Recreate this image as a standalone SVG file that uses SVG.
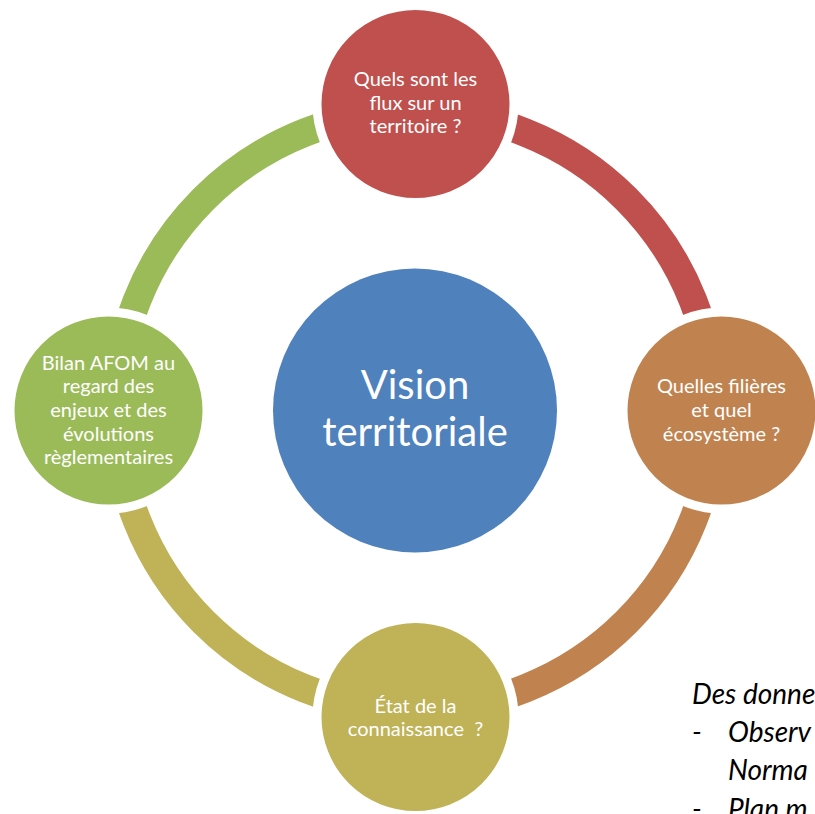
<svg xmlns="http://www.w3.org/2000/svg" width="815" height="814" viewBox="0 0 815 814">
  <style>
    .arc { fill: none; stroke-width: 28.5; stroke-linecap: butt; }
    .node { stroke: #FFFFFF; stroke-width: 9; }
    .lbl { font-family: Lato, "Open Sans", "Liberation Sans", sans-serif; font-size: 20px; fill: #FFFFFF; text-anchor: middle; }
    .big { font-family: Lato, "Open Sans", "Liberation Sans", sans-serif; font-size: 40px; fill: #FFFFFF; text-anchor: middle; }
    .note { font-family: Lato, "Open Sans", "Liberation Sans", sans-serif; font-size: 28px; font-style: italic; fill: #000000; }
  </style>
  <rect width="815" height="814" fill="#FFFFFF"/>
  <g id="connectors">
    <path class="arc" stroke="#C0504D" d="M 415 111.5 A 299 299 0 0 1 714 410.5"/>
    <path class="arc" stroke="#C0834F" d="M 714 410.5 A 299 299 0 0 1 415 709.5"/>
    <path class="arc" stroke="#BFB257" d="M 415 709.5 A 299 299 0 0 1 116 410.5"/>
    <path class="arc" stroke="#9BBB59" d="M 116 410.5 A 299 299 0 0 1 415 111.5"/>
  </g>
  <g id="center">
    <circle cx="415" cy="410.5" r="142" fill="#4F81BD"/>
    <text class="big" x="415" y="399">Vision</text>
    <text class="big" x="415" y="445.5">territoriale</text>
  </g>
  <g id="node-top">
    <circle class="node" cx="415.5" cy="104" r="98.5" fill="#C0504D"/>
    <text class="lbl" x="415.5" y="86">Quels sont les</text>
    <text class="lbl" x="415.5" y="110">flux sur un</text>
    <text class="lbl" x="415.5" y="133">territoire ?</text>
  </g>
  <g id="node-right">
    <circle class="node" cx="721.5" cy="410.5" r="98.5" fill="#C0834F"/>
    <text class="lbl" x="721.5" y="393">Quelles filières</text>
    <text class="lbl" x="721.5" y="417">et quel</text>
    <text class="lbl" x="721.5" y="441">écosystème ?</text>
  </g>
  <g id="node-bottom">
    <circle class="node" cx="415.5" cy="717" r="98.5" fill="#BFB257"/>
    <text class="lbl" x="415.5" y="712.5">État de la</text>
    <text class="lbl" x="415.5" y="735.5" xml:space="preserve">connaissance  ?</text>
  </g>
  <g id="node-left">
    <circle class="node" cx="108.5" cy="410.5" r="98.5" fill="#9BBB59"/>
    <text class="lbl" x="108.5" y="369.5">Bilan AFOM au</text>
    <text class="lbl" x="108.5" y="393">regard des</text>
    <text class="lbl" x="108.5" y="417">enjeux et des</text>
    <text class="lbl" x="108.5" y="441">évolutions</text>
    <text class="lbl" x="108.5" y="464">règlementaires</text>
  </g>
  <g id="note">
    <text class="note" x="692" y="704">Des donne</text>
    <text class="note" x="692" y="742">-</text>
    <text class="note" x="728" y="742">Observ</text>
    <text class="note" x="728" y="780">Norma</text>
    <text class="note" x="692" y="819">-</text>
    <text class="note" x="728" y="819">Plan m</text>
  </g>
</svg>
